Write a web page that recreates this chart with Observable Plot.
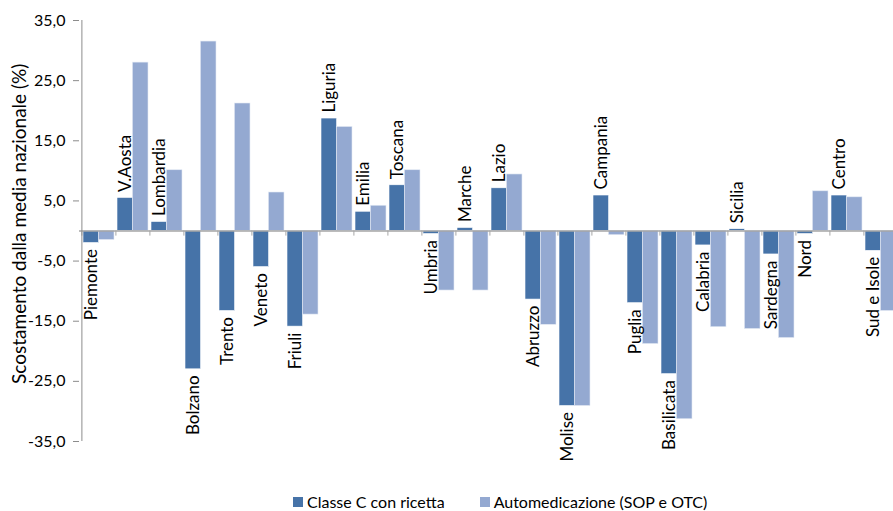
<!DOCTYPE html>
<html>
<head>
<meta charset="utf-8">
<script src="https://cdn.jsdelivr.net/npm/d3@7"></script>
<script src="https://cdn.jsdelivr.net/npm/@observablehq/plot@0.6"></script>
<style>
  html, body { margin: 0; padding: 0; background: #fff; overflow: hidden; }
  #wrap { position: relative; width: 893px; height: 511px; font-family: Lato, "Open Sans", sans-serif; }
  #legend { position: absolute; left: 293px; top: 492px; display: flex; align-items: center; font-size: 16px; line-height: 19px; color: #000; white-space: nowrap; }
  .sw { display: inline-block; width: 10px; height: 10px; margin-right: 4px; }
  .item { display: flex; align-items: center; margin-right: 35px; }
</style>
</head>
<body>
<div id="wrap">
  <div id="chart"></div>
  <div id="legend"></div>
</div>
<script>
const regions = ["Piemonte","V.Aosta","Lombardia","Bolzano","Trento","Veneto","Friuli","Liguria","Emilia","Toscana","Umbria","Marche","Lazio","Abruzzo","Molise","Campania","Puglia","Basilicata","Calabria","Sicilia","Sardegna","Nord","Centro","Sud e Isole"];
const classeC = [-2.0, 5.5, 1.5, -23.0, -13.3, -6.0, -15.9, 18.7, 3.2, 7.6, -0.5, 0.5, 7.1, -11.4, -29.1, 5.9, -12.0, -23.8, -2.4, 0.3, -3.9, -0.5, 5.9, -3.3];
const automed = [-1.5, 28.0, 10.1, 31.5, 21.2, 6.4, -13.9, 17.3, 4.2, 10.1, -9.9, -9.9, 9.4, -15.6, -29.1, -0.7, -18.8, -31.3, -16.0, -16.3, -17.8, 6.6, 5.6, -13.3];
const seriesNames = ["Classe C con ricetta", "Automedicazione (SOP e OTC)"];
const seriesColors = ["#4673a8", "#94a9d1"];
const yTicks = [-35, -25, -15, -5, 5, 15, 25, 35];
const yTitle = "Scostamento dalla media nazionale (%)";

const dark = regions.map((r, i) => ({region: r, value: classeC[i]}));
const light = regions.map((r, i) => ({region: r, value: automed[i]}));

const W = 893, H = 496;
const xRange = [79, 900];
const padIn = 0.1, padOut = 0.05;
const step = (xRange[1] - xRange[0]) / (regions.length - padIn + 2 * padOut);
const bw = step * (1 - padIn);
const fmt = d => d.toFixed(1).replace(".", ",");
const font = "Lato, 'Open Sans', sans-serif";

const chart = Plot.plot({
  width: W,
  height: H,
  marginLeft: 79,
  marginRight: 0,
  marginTop: 20,
  marginBottom: 55,
  style: {fontFamily: font, background: "#fff", overflow: "hidden"},
  x: {domain: regions, range: xRange, paddingInner: padIn, paddingOuter: padOut, axis: null},
  y: {domain: [-35, 35], axis: null},
  marks: [
    Plot.barY(dark, {x: "region", y: "value", fill: seriesColors[0], insetRight: bw / 2, stroke: "#fff", strokeWidth: 0.6}),
    Plot.barY(light, {x: "region", y: "value", fill: seriesColors[1], insetLeft: bw / 2, stroke: "#e4eaf4", strokeWidth: 0.6}),
    Plot.ruleY([0], {stroke: "#a6a6a6", strokeWidth: 1.5}),
    Plot.ruleX(regions, {x: d => d, y1: 0, y2: -0.85, dx: -step / 2, stroke: "#a6a6a6", strokeWidth: 1}),
    Plot.ruleX([regions[0]], {x: d => d, y1: -35, y2: 35, dx: -step / 2, stroke: "#8c8c8c", strokeWidth: 1}),
    Plot.axisY({ticks: yTicks, tickFormat: fmt, tickSize: 6, tickPadding: 8, stroke: "#8c8c8c", fontSize: 16, fill: "#000", label: null}),
    Plot.text([yTitle], {frameAnchor: "left", textAnchor: "middle", dx: 19 - 79, rotate: -90, fontSize: 19, fill: "#000", text: d => d, y: () => 1.2}),
    Plot.text(dark.filter(d => d.value >= 0), {x: "region", y: "value", text: "region", dx: -bw / 4, dy: -6, rotate: -90, textAnchor: "start", fontSize: 17, fill: "#000"}),
    Plot.text(dark.filter(d => d.value < 0), {x: "region", y: "value", text: "region", dx: -bw / 4, dy: 6, rotate: -90, textAnchor: "end", fontSize: 17, fill: "#000"})
  ]
});
document.getElementById("chart").appendChild(chart);

const legend = document.getElementById("legend");
seriesNames.forEach((name, i) => {
  const item = document.createElement("div");
  item.className = "item";
  const sw = document.createElement("span");
  sw.className = "sw";
  sw.style.background = seriesColors[i];
  item.appendChild(sw);
  item.appendChild(document.createTextNode(name));
  legend.appendChild(item);
});
</script>
</body>
</html>
